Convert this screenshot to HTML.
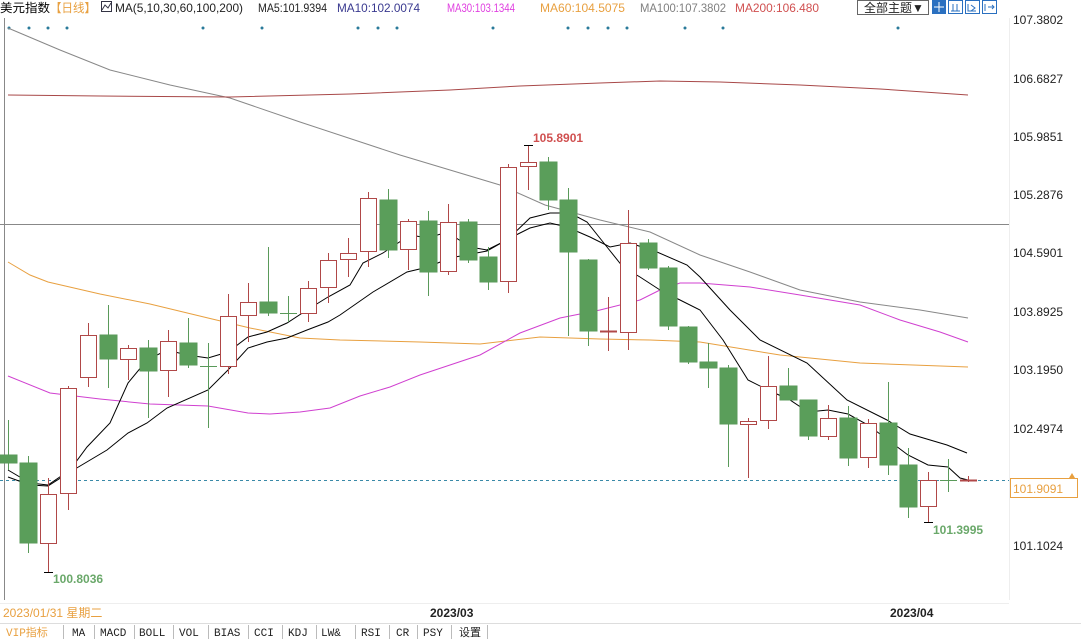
<!DOCTYPE html>
<html><head><meta charset="utf-8"><style>
body{margin:0;background:#fff;width:1081px;height:639px;overflow:hidden;font-family:"Liberation Sans","Noto Sans CJK SC",sans-serif}
svg{position:absolute;left:0;top:0}
</style></head><body>
<svg width="1081" height="639" viewBox="0 0 1081 639" xmlns="http://www.w3.org/2000/svg">
<rect width="1081" height="639" fill="#fff"/>
<line x1="4.5" y1="18" x2="4.5" y2="600" stroke="#888"/>
<line x1="1009.5" y1="18" x2="1009.5" y2="600" stroke="#eee"/>
<line x1="0" y1="224.5" x2="1009" y2="224.5" stroke="#888"/>
<line x1="0" y1="480.5" x2="1009" y2="480.5" stroke="#3a8aa8" stroke-dasharray="3,3"/>
<g fill="#2a7a9a">
<circle cx="9" cy="28" r="1.5"/><circle cx="29" cy="28" r="1.5"/><circle cx="48" cy="28" r="1.5"/><circle cx="67" cy="28" r="1.5"/><circle cx="203" cy="28" r="1.5"/><circle cx="262" cy="28" r="1.5"/><circle cx="358" cy="28" r="1.5"/><circle cx="378" cy="28" r="1.5"/><circle cx="397" cy="28" r="1.5"/><circle cx="493" cy="28" r="1.5"/><circle cx="568" cy="28" r="1.5"/><circle cx="588" cy="28" r="1.5"/><circle cx="608" cy="28" r="1.5"/><circle cx="627" cy="28" r="1.5"/><circle cx="685" cy="28" r="1.5"/><circle cx="723" cy="28" r="1.5"/><circle cx="898" cy="28" r="1.5"/>
</g>
<polyline fill="none" stroke="#888" stroke-width="1" points="8,28 60,50 110,70 170,85 230,98 300,122 400,155 500,185 545,205 600,220 650,232 700,255 750,272 800,290 860,302 920,310 968,318"/>
<polyline fill="none" stroke="#a84848" stroke-width="1" points="8,95 100,96 230,97 350,94 450,90 520,86 600,83 660,81 720,82 800,85 880,89 968,95"/>
<polyline fill="none" stroke="#e8a040" stroke-width="1" points="8,262 30,275 48,282 100,294 150,304 208,318 250,328 300,338 340,340 420,342 480,344 540,337 600,339 650,340 700,342 780,355 860,363 968,367"/>
<polyline fill="none" stroke="#d040d0" stroke-width="1" points="8,376 50,393 100,399 150,404 208,406 248,413 270,414 300,412 330,408 360,396 390,387 420,375 480,355 520,333 560,318 600,310 640,300 660,290 680,283 700,283 750,287 800,295 860,305 900,320 940,332 968,342"/>
<polyline fill="none" stroke="#000" stroke-width="1" points="8,477 30,485 48,486 70,472 107,450 128,433 147,423 167,408 208,390 228,370 248,348 267,342 287,338 307,330 328,322 340,315 373,292 407,272 428,267 450,258 487,251 510,238 530,228 550,223 567,227 590,237 610,247 630,243 657,252 687,265 700,277 730,310 760,340 807,363 847,400 887,420 910,434 947,445 967,453"/>
<polyline fill="none" stroke="#000" stroke-width="1" points="8,470 30,483 48,485 70,470 87,447 110,423 128,383 147,360 167,350 187,355 208,358 228,352 248,337 267,332 287,323 307,310 328,297 350,285 363,263 383,253 410,235 428,238 447,232 470,247 487,250 507,240 530,218 550,213 570,213 587,222 607,247 623,267 640,277 660,290 680,300 700,310 723,340 748,380 768,390 790,400 808,412 828,410 848,414 868,425 888,440 908,455 928,465 948,467 960,478 968,480"/>
<g stroke="#b04848" stroke-width="1" fill="#fff">
<line x1="48.5" y1="478" x2="48.5" y2="572"/><rect x="40.5" y="494.5" width="16" height="49"/>
<line x1="68.5" y1="386" x2="68.5" y2="510"/><rect x="60.5" y="388.5" width="16" height="105"/>
<line x1="88.5" y1="323" x2="88.5" y2="387"/><rect x="80.5" y="335.5" width="16" height="42"/>
<line x1="128.5" y1="345" x2="128.5" y2="380"/><rect x="120.5" y="348.5" width="16" height="11"/>
<line x1="168.5" y1="330" x2="168.5" y2="397"/><rect x="160.5" y="341.5" width="16" height="29"/>
<line x1="228.5" y1="294" x2="228.5" y2="374"/><rect x="220.5" y="316.5" width="16" height="50"/>
<line x1="248.5" y1="283" x2="248.5" y2="342"/><rect x="240.5" y="302.5" width="16" height="13"/>
<line x1="308.5" y1="281" x2="308.5" y2="322"/><rect x="300.5" y="288.5" width="16" height="25"/>
<line x1="328.5" y1="253" x2="328.5" y2="303"/><rect x="320.5" y="260.5" width="16" height="27"/>
<line x1="348.5" y1="238" x2="348.5" y2="277"/><rect x="340.5" y="253.5" width="16" height="6"/>
<line x1="368.5" y1="192" x2="368.5" y2="267"/><rect x="360.5" y="198.5" width="16" height="53"/>
<line x1="408.5" y1="219" x2="408.5" y2="270"/><rect x="400.5" y="221.5" width="16" height="28"/>
<line x1="448.5" y1="204" x2="448.5" y2="275"/><rect x="440.5" y="222.5" width="16" height="49"/>
<line x1="508.5" y1="164" x2="508.5" y2="293"/><rect x="500.5" y="167.5" width="16" height="114"/>
<line x1="528.5" y1="145" x2="528.5" y2="190"/><rect x="520.5" y="162.5" width="16" height="4"/>
<line x1="608.5" y1="297" x2="608.5" y2="351"/><line x1="600" y1="331.5" x2="617" y2="331.5" stroke-width="2"/>
<line x1="628.5" y1="210" x2="628.5" y2="350"/><rect x="620.5" y="243.5" width="16" height="89"/>
<line x1="748.5" y1="418" x2="748.5" y2="478"/><rect x="740.5" y="421.5" width="16" height="3"/>
<line x1="768.5" y1="356" x2="768.5" y2="429"/><rect x="760.5" y="386.5" width="16" height="34"/>
<line x1="828.5" y1="405" x2="828.5" y2="440"/><rect x="820.5" y="418.5" width="16" height="18"/>
<line x1="868.5" y1="419" x2="868.5" y2="468"/><rect x="860.5" y="423.5" width="16" height="34"/>
<line x1="928.5" y1="472" x2="928.5" y2="522"/><rect x="920.5" y="480.5" width="16" height="26"/>
<line x1="968.5" y1="476" x2="968.5" y2="482"/><line x1="960" y1="480.5" x2="977" y2="480.5" stroke-width="2"/>
<line x1="524" y1="145.5" x2="533" y2="145.5" stroke="#000"/><line x1="44" y1="572.5" x2="53" y2="572.5" stroke="#000"/><line x1="924" y1="522.5" x2="933" y2="522.5" stroke="#000"/>
</g>
<g stroke="#5a9a5a" fill="#5a9e5a">
<line x1="8.5" y1="420" x2="8.5" y2="470"/><rect x="0" y="455" width="17" height="8"/>
<line x1="28.5" y1="456" x2="28.5" y2="553"/><rect x="20" y="463" width="17" height="80"/>
<line x1="108.5" y1="305" x2="108.5" y2="388"/><rect x="100" y="335" width="17" height="24"/>
<line x1="148.5" y1="340" x2="148.5" y2="418"/><rect x="140" y="348" width="17" height="23"/>
<line x1="188.5" y1="318" x2="188.5" y2="368"/><rect x="180" y="343" width="17" height="22"/>
<line x1="208.5" y1="343" x2="208.5" y2="428"/><line x1="200" y1="366.5" x2="217" y2="366.5"/>
<line x1="268.5" y1="247" x2="268.5" y2="316"/><rect x="260" y="302" width="17" height="11"/>
<line x1="288.5" y1="296" x2="288.5" y2="322"/><line x1="280" y1="313.5" x2="297" y2="313.5"/>
<line x1="388.5" y1="189" x2="388.5" y2="258"/><rect x="380" y="200" width="17" height="50"/>
<line x1="428.5" y1="211" x2="428.5" y2="296"/><rect x="420" y="221" width="17" height="51"/>
<line x1="468.5" y1="219" x2="468.5" y2="263"/><rect x="460" y="222" width="17" height="38"/>
<line x1="488.5" y1="247" x2="488.5" y2="290"/><rect x="480" y="257" width="17" height="25"/>
<line x1="548.5" y1="157" x2="548.5" y2="210"/><rect x="540" y="162" width="17" height="38"/>
<line x1="568.5" y1="188" x2="568.5" y2="336"/><rect x="560" y="200" width="17" height="52"/>
<line x1="588.5" y1="259" x2="588.5" y2="346"/><rect x="580" y="260" width="17" height="71"/>
<line x1="648.5" y1="239" x2="648.5" y2="270"/><rect x="640" y="243" width="17" height="25"/>
<line x1="668.5" y1="266" x2="668.5" y2="330"/><rect x="660" y="268" width="17" height="58"/>
<line x1="688.5" y1="326" x2="688.5" y2="364"/><rect x="680" y="327" width="17" height="35"/>
<line x1="708.5" y1="343" x2="708.5" y2="388"/><rect x="700" y="362" width="17" height="6"/>
<line x1="728.5" y1="365" x2="728.5" y2="467"/><rect x="720" y="368" width="17" height="56"/>
<line x1="788.5" y1="368" x2="788.5" y2="400"/><rect x="780" y="386" width="17" height="14"/>
<line x1="808.5" y1="400" x2="808.5" y2="440"/><rect x="800" y="400" width="17" height="36"/>
<line x1="848.5" y1="406" x2="848.5" y2="466"/><rect x="840" y="418" width="17" height="40"/>
<line x1="888.5" y1="382" x2="888.5" y2="475"/><rect x="880" y="423" width="17" height="42"/>
<line x1="908.5" y1="448" x2="908.5" y2="518"/><rect x="900" y="465" width="17" height="42"/>
<line x1="948.5" y1="459" x2="948.5" y2="492"/><line x1="940" y1="480.5" x2="957" y2="480.5"/>
</g>
<g font-size="12" font-weight="bold">
<text x="533" y="142" fill="#d05050">105.8901</text>
<text x="53" y="583" fill="#6aa86a">100.8036</text>
<text x="933" y="534" fill="#6aa86a">101.3995</text>
</g>
<g font-size="12" fill="#222">
<text x="1013" y="24">107.3802</text><text x="1013" y="83">106.6827</text><text x="1013" y="141">105.9851</text><text x="1013" y="199">105.2876</text><text x="1013" y="257">104.5901</text><text x="1013" y="316">103.8925</text><text x="1013" y="374">103.1950</text><text x="1013" y="433">102.4974</text><text x="1013" y="550">101.1024</text>
</g>
<rect x="1010.5" y="478.5" width="67" height="19" fill="#fff" stroke="#e8a040"/>
<text x="1013" y="493" font-size="12" fill="#e8a040">101.9091</text>
<polygon points="1069,478 1072,473 1075,478" fill="#e8a040"/>
<g font-size="12">
<text x="0" y="12" fill="#000" textLength="50" lengthAdjust="spacingAndGlyphs">美元指数</text>
<text x="50" y="12" fill="#e8a040" textLength="46" lengthAdjust="spacingAndGlyphs">【日线】</text>
<rect x="101.5" y="1.5" width="10" height="10" fill="none" stroke="#334"/>
<polyline points="102,10 105,5 108,8 111,3" fill="none" stroke="#334"/>
<text x="115" y="12" fill="#222" textLength="128" lengthAdjust="spacingAndGlyphs">MA(5,10,30,60,100,200)</text>
<text x="258" y="12" fill="#222" textLength="69" lengthAdjust="spacingAndGlyphs">MA5:101.9394</text>
<text x="337" y="12" fill="#3a3a90" textLength="83" lengthAdjust="spacingAndGlyphs">MA10:102.0074</text>
<text x="447" y="12" fill="#e040e0" textLength="68" lengthAdjust="spacingAndGlyphs">MA30:103.1344</text>
<text x="540" y="12" fill="#e8a040" textLength="85" lengthAdjust="spacingAndGlyphs">MA60:104.5075</text>
<text x="640" y="12" fill="#808080" textLength="86" lengthAdjust="spacingAndGlyphs">MA100:107.3802</text>
<text x="735" y="12" fill="#d05050" textLength="84" lengthAdjust="spacingAndGlyphs">MA200:106.480</text>
</g>
<rect x="857.5" y="0.5" width="71" height="14" fill="#fff" stroke="#666"/>
<text x="864" y="12" font-size="12" fill="#222">全部主题▼</text>
<rect x="932" y="0" width="14" height="14" fill="#2a70c0"/>
<path d="M939 2v10M934 7h10" stroke="#fff"/>
<rect x="948.5" y="0.5" width="14" height="13" fill="#fff" stroke="#2a70c0"/>
<rect x="965.5" y="0.5" width="14" height="13" fill="#fff" stroke="#2a70c0"/>
<rect x="982.5" y="0.5" width="14" height="13" fill="#fff" stroke="#2a70c0"/>
<path d="M951 11h9M953 4v7M957 4v7M968 4v7h8M971 5l4 3-4 3M985 4v7M988 7h6M992 5l2 2-2 2" stroke="#2a70c0" fill="none"/>
<line x1="0" y1="603.5" x2="1009" y2="603.5" stroke="#eee"/>
<text x="3" y="617" font-size="12" fill="#e8a040">2023/01/31 星期二</text>
<text x="430" y="617" font-size="12" font-weight="bold" fill="#222">2023/03</text>
<text x="890" y="617" font-size="12" font-weight="bold" fill="#222">2023/04</text>
<line x1="0" y1="623.5" x2="1081" y2="623.5" stroke="#ddd"/>
<g font-family="Liberation Mono,'Noto Sans CJK SC',monospace" font-size="11" fill="#222">
<text x="6" y="636" fill="#e8a040">VIP指标</text>
<text x="72" y="636">MA</text><text x="100" y="636">MACD</text><text x="139" y="636">BOLL</text><text x="179" y="636">VOL</text><text x="214" y="636">BIAS</text><text x="254" y="636">CCI</text><text x="288" y="636">KDJ</text><text x="321" y="636">LW&amp;</text><text x="361" y="636">RSI</text><text x="396" y="636">CR</text><text x="423" y="636">PSY</text><text x="459" y="636">设置</text>
</g>
<g stroke="#bbb"><line x1="63.5" y1="625" x2="63.5" y2="639"/><line x1="94.5" y1="625" x2="94.5" y2="639"/><line x1="134.5" y1="625" x2="134.5" y2="639"/><line x1="173.5" y1="625" x2="173.5" y2="639"/><line x1="208.5" y1="625" x2="208.5" y2="639"/><line x1="248.5" y1="625" x2="248.5" y2="639"/><line x1="282.5" y1="625" x2="282.5" y2="639"/><line x1="316.5" y1="625" x2="316.5" y2="639"/><line x1="355.5" y1="625" x2="355.5" y2="639"/><line x1="389.5" y1="625" x2="389.5" y2="639"/><line x1="417.5" y1="625" x2="417.5" y2="639"/><line x1="451.5" y1="625" x2="451.5" y2="639"/><line x1="487.5" y1="625" x2="487.5" y2="639"/></g>
</svg>
</body></html>
